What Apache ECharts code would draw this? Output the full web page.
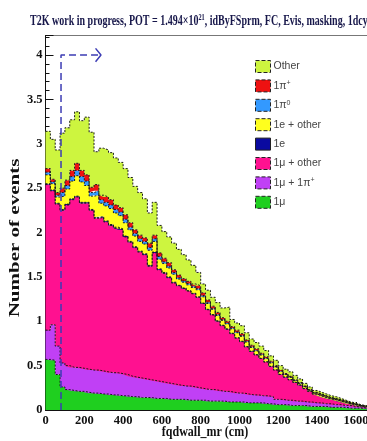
<!DOCTYPE html>
<html>
<head>
<meta charset="utf-8">
<script src="https://cdn.jsdelivr.net/npm/echarts@6/dist/echarts.min.js"></script>
<style>
  html, body { margin: 0; padding: 0; background: #ffffff; }
  #chart { width: 367px; height: 441px; }
</style>
</head>
<body>
<div id="chart"></div>
<script>
// Histogram bins of fqdwall_mr (cm), 25 cm wide; each entry is the bin's low edge
const binLow = [0,25,50,75,100,125,150,175,200,225,250,275,300,325,350,375,400,425,450,475,
  500,525,550,575,600,625,650,675,700,725,750,775,800,825,850,875,900,925,950,975,
  1000,1025,1050,1075,1100,1125,1150,1175,1200,1225,1250,1275,1300,1325,1350,1375,1400,1425,1450,1475,
  1500,1525,1550,1575,1600,1625,1650,1675];
const binHighEnd = 1700;

// Event counts per bin for each final-state category (stacked bottom to top)
const muOnly = [0.57,0.56,0.40,0.26,0.23,0.22,0.21,0.21,0.20,0.19,0.19,0.18,0.18,0.17,0.17,0.16,0.16,0.15,0.15,0.14,
  0.14,0.14,0.13,0.13,0.13,0.12,0.12,0.12,0.12,0.11,0.11,0.11,0.11,0.10,0.10,0.10,0.10,0.09,0.09,0.09,
  0.09,0.08,0.08,0.08,0.08,0.07,0.07,0.06,0.06,0.06,0.05,0.05,0.05,0.05,0.04,0.04,0.04,0.04,0.03,0.03,
  0.03,0.03,0.02,0.02,0.02,0.02,0.01,0.01];
const muPiPlus = [0.33,0.40,0.32,0.27,0.27,0.26,0.27,0.26,0.26,0.26,0.26,0.26,0.25,0.25,0.25,0.25,0.24,0.23,0.22,0.22,
  0.21,0.20,0.20,0.19,0.18,0.18,0.17,0.16,0.15,0.16,0.15,0.14,0.13,0.13,0.13,0.12,0.11,0.12,0.11,0.10,
  0.10,0.10,0.09,0.09,0.08,0.09,0.08,0.06,0.06,0.05,0.06,0.05,0.05,0.04,0.05,0.04,0.04,0.03,0.04,0.03,
  0.03,0.02,0.03,0.02,0.015,0.01,0.015,0.01];
const muOther = [1.64,1.51,1.60,1.72,1.81,1.89,1.92,1.86,1.87,1.80,1.71,1.73,1.69,1.66,1.63,1.62,1.55,1.51,1.46,1.42,
  1.40,1.28,1.44,1.26,1.23,1.19,1.14,1.12,1.10,1.07,1.05,1.02,0.96,0.90,0.84,0.78,0.74,0.70,0.66,0.62,
  0.58,0.53,0.49,0.45,0.42,0.38,0.34,0.33,0.28,0.26,0.23,0.21,0.18,0.15,0.12,0.10,0.08,0.07,0.055,0.055,
  0.04,0.035,0.02,0.02,0.01,0.01,0.005,0];
const eOnly = [0.01,0.01,0.01,0.01,0.01,0.01,0.01,0.01,0.01,0.01,0.01,0.01,0.01,0.01,0.01,0.01,0.01,0.01,0.01,0.01,
  0.01,0.01,0.01,0.01,0.01,0.01,0.01,0.005,0.005,0.005,0.005,0.005,0.005,0.005,0.005,0.005,0.005,0.005,0.005,0.005,
  0.005,0.005,0.004,0.004,0.004,0.004,0.004,0.003,0.003,0.003,0.003,0.002,0.002,0.002,0.001,0.001,0.001,0.001,0.001,0.001,
  0.001,0.001,0.001,0.001,0.001,0,0,0];
const eOther = [0.10,0.07,0.07,0.15,0.17,0.20,0.23,0.23,0.19,0.15,0.25,0.15,0.17,0.18,0.16,0.15,0.15,0.13,0.12,0.11,
  0.11,0.17,0.12,0.11,0.10,0.10,0.09,0.07,0.065,0.065,0.065,0.08,0.07,0.065,0.06,0.06,0.055,0.055,0.05,0.055,
  0.055,0.05,0.04,0.04,0.035,0.035,0.035,0.03,0.03,0.025,0.025,0.018,0.018,0.018,0.012,0.012,0.012,0.012,0.009,0.009,
  0.009,0.009,0.006,0.006,0.006,0.003,0.003,0.003];
const piZero = [0.03,0.02,0.02,0.04,0.04,0.05,0.06,0.06,0.05,0.04,0.05,0.04,0.04,0.04,0.04,0.04,0.04,0.03,0.03,0.03,
  0.03,0.03,0.03,0.03,0.02,0.02,0.02,0.015,0.015,0.015,0.015,0.015,0.015,0.015,0.01,0.01,0.01,0.01,0.01,0.01,
  0.01,0.01,0.01,0.01,0.008,0.008,0.008,0.007,0.007,0.005,0.005,0.004,0.004,0.004,0.003,0.003,0.003,0.003,0.002,0.002,
  0.002,0.002,0.001,0.001,0.001,0.001,0.001,0.001];
const piPlus = [0.04,0.03,0.03,0.05,0.06,0.07,0.08,0.07,0.07,0.06,0.07,0.05,0.06,0.06,0.05,0.05,0.05,0.05,0.04,0.04,
  0.04,0.05,0.04,0.04,0.04,0.04,0.03,0.03,0.025,0.025,0.025,0.03,0.03,0.025,0.025,0.025,0.02,0.02,0.015,0.02,
  0.02,0.015,0.016,0.016,0.013,0.013,0.013,0.01,0.01,0.007,0.007,0.006,0.006,0.006,0.004,0.004,0.004,0.004,0.003,0.003,
  0.003,0.003,0.002,0.002,0.002,0.001,0.001,0.001];
const otherTop = [0.42,0.45,0.48,0.62,0.59,0.57,0.58,0.56,0.65,0.62,0.37,0.53,0.53,0.53,0.53,0.51,0.52,0.51,0.49,0.48,
  0.44,0.34,0.37,0.31,0.30,0.29,0.30,0.29,0.27,0.24,0.21,0.15,0.10,0.11,0.10,0.11,0.11,0.16,0.08,0.08,
  0.09,0.08,0.07,0.07,0.08,0.07,0.06,0.06,0.05,0.05,0.05,0.05,0.04,0.03,0.03,0.02,0.02,0.02,0.02,0.02,
  0.015,0.01,0.01,0.01,0.005,0.005,0.005,0.005];

// Axis ticks
const xTicks = { min: 0, max: 1700, step: 200 };
const yTicks = { min: 0, max: 4.22, step: 0.5 };

// Fiducial cut on fqdwall_mr and the arrow showing the selected side
const cutLine = [[80, 0], [80, 4.0], [284, 4.0]];
const cutArrowHead = [[258, 4.075], [286, 4.0], [258, 3.925]];

const layers = [
  { name: '1μ',         data: muOnly,   color: '#1fcf1f' },
  { name: '1μ + 1π+',   data: muPiPlus, color: '#c040f5' },
  { name: '1μ + other', data: muOther,  color: '#ff1190' },
  { name: '1e',         data: eOnly,    color: '#0a0aa0' },
  { name: '1e + other', data: eOther,   color: '#ffff1e' },
  { name: '1π0',        data: piZero,   color: '#3399ff' },
  { name: '1π+',        data: piPlus,   color: '#ee1111' },
  { name: 'Other',      data: otherTop, color: '#cdf53f' }
];

const legendText = {
  'Other': 'Other',
  '1π+': '1π{s|+}',
  '1π0': '1π{s|0}',
  '1e + other': '1e + other',
  '1e': '1e',
  '1μ + other': '1μ + other',
  '1μ + 1π+': '1μ + 1π{s|+}',
  '1μ': '1μ'
};

const serif = '"Liberation Serif", "DejaVu Serif", serif';
const sans = '"Liberation Sans", Arial, sans-serif';

// Bin edges as categories: every bin is a flat step from its low edge to the next one
const binEdges = binLow.concat([binHighEnd]);
const withClosingEdge = values => values.concat([values[values.length - 1]]);

const histSeries = layers.map(l => ({
  type: 'line',
  name: l.name,
  xAxisIndex: 0,
  yAxisIndex: 0,
  stack: 'events',
  step: 'end',
  data: withClosingEdge(l.data),
  symbol: 'none',
  showSymbol: false,
  itemStyle: { color: l.color },
  areaStyle: { color: l.color, opacity: 1 },
  lineStyle: { color: '#1a1a1a', width: 1, type: [2, 1.5] },
  emphasis: { disabled: true },
  silent: true,
  z: 2
}));

const cutSeries = [
  {
    type: 'line', name: 'cut', xAxisIndex: 1, yAxisIndex: 0,
    data: cutLine, symbol: 'none', silent: true, z: 5,
    lineStyle: { color: '#3c3cb4', width: 1.5, type: [7, 4] }
  },
  {
    type: 'line', name: 'cut arrow', xAxisIndex: 1, yAxisIndex: 0,
    data: cutArrowHead, symbol: 'none', silent: true, z: 5,
    lineStyle: { color: '#3c3cb4', width: 1.5 }
  }
];

const chart = echarts.init(document.getElementById('chart'), null, { renderer: 'canvas' });
chart.setOption({
  animation: false,
  backgroundColor: '#ffffff',
  grid: {
    left: 45.5, right: -8.3, top: 35.5, bottom: 31,
    show: true, borderColor: '#777777', borderWidth: 1,
    containLabel: false, outerBoundsMode: 'none'
  },
  legend: {
    orient: 'vertical',
    left: 250, top: 55,
    itemWidth: 15, itemHeight: 12, itemGap: 6.4,
    icon: 'rect',
    selectedMode: false,
    data: layers.slice().reverse().map(l => ({
      name: l.name,
      itemStyle: { color: l.color, borderColor: '#222222', borderWidth: 1, borderType: l.name === '1e' ? 'solid' : 'dashed' }
    })),
    formatter: name => legendText[name],
    textStyle: {
      fontFamily: sans, fontSize: 10.5, color: '#444444', padding: [0, 0, 0, -2],
      rich: { s: { fontFamily: sans, fontSize: 7, color: '#444444', verticalAlign: 'top', padding: [0, 0, 5, 0] } }
    }
  },
  xAxis: [
    {
      type: 'category', data: binEdges, boundaryGap: false, show: false, position: 'top'
    },
    {
      type: 'value', position: 'bottom',
      min: xTicks.min, max: xTicks.max, interval: xTicks.step,
      axisLine: { show: true, lineStyle: { color: '#111111', width: 1 } },
      axisTick: { show: true, inside: true, length: 8, lineStyle: { color: '#111111' } },
      minorTick: { show: true, splitNumber: 5, length: 4, lineStyle: { color: '#111111' } },
      splitLine: { show: false },
      axisLabel: {
        showMaxLabel: false, margin: 4, color: '#111111',
        fontFamily: serif, fontWeight: 'bold', fontSize: 12.5,
        formatter: v => String(v)
      }
    }
  ],
  yAxis: {
    type: 'value', min: yTicks.min, max: yTicks.max, interval: yTicks.step,
    axisLine: { show: true, lineStyle: { color: '#111111', width: 1 } },
    axisTick: { show: true, inside: true, length: 8, lineStyle: { color: '#111111' } },
    minorTick: { show: true, splitNumber: 5, length: 4, lineStyle: { color: '#111111' } },
    splitLine: { show: false },
    axisLabel: {
      showMaxLabel: false, margin: 3, color: '#111111',
      fontFamily: serif, fontWeight: 'bold', fontSize: 12.5
    }
  },
  graphic: [
    {
      type: 'text', x: 30, y: 13, scaleX: 0.972, scaleY: 1.35, silent: true,
      style: {
        text: 'T2K work in progress, POT = 1.494×10{s|21}, idByFSprm, FC, Evis, masking, 1dcye',
        fontFamily: serif, fontWeight: 'bold', fontSize: 10.3, fill: '#17174a',
        rich: { s: { fontFamily: serif, fontWeight: 'bold', fontSize: 6.5, fill: '#17174a', verticalAlign: 'top', padding: [0, 0, 5, 0] } }
      }
    },
    {
      type: 'text', x: 15, y: 238, rotation: Math.PI / 2, scaleX: 1.5, silent: true,
      style: {
        text: 'Number of events', x: 0, y: 0,
        align: 'center', verticalAlign: 'middle', textAlign: 'center', textVerticalAlign: 'middle',
        fontFamily: serif, fontWeight: 'bold', fontSize: 14, fill: '#111111'
      }
    },
    {
      type: 'text', x: 205, y: 432, scaleY: 1.3, silent: true,
      style: {
        text: 'fqdwall_mr (cm)', x: 0, y: 0,
        align: 'center', verticalAlign: 'middle', textAlign: 'center', textVerticalAlign: 'middle',
        fontFamily: serif, fontWeight: 'bold', fontSize: 12, fill: '#111111'
      }
    }
  ],
  series: histSeries.concat(cutSeries)
});
</script>
</body>
</html>
